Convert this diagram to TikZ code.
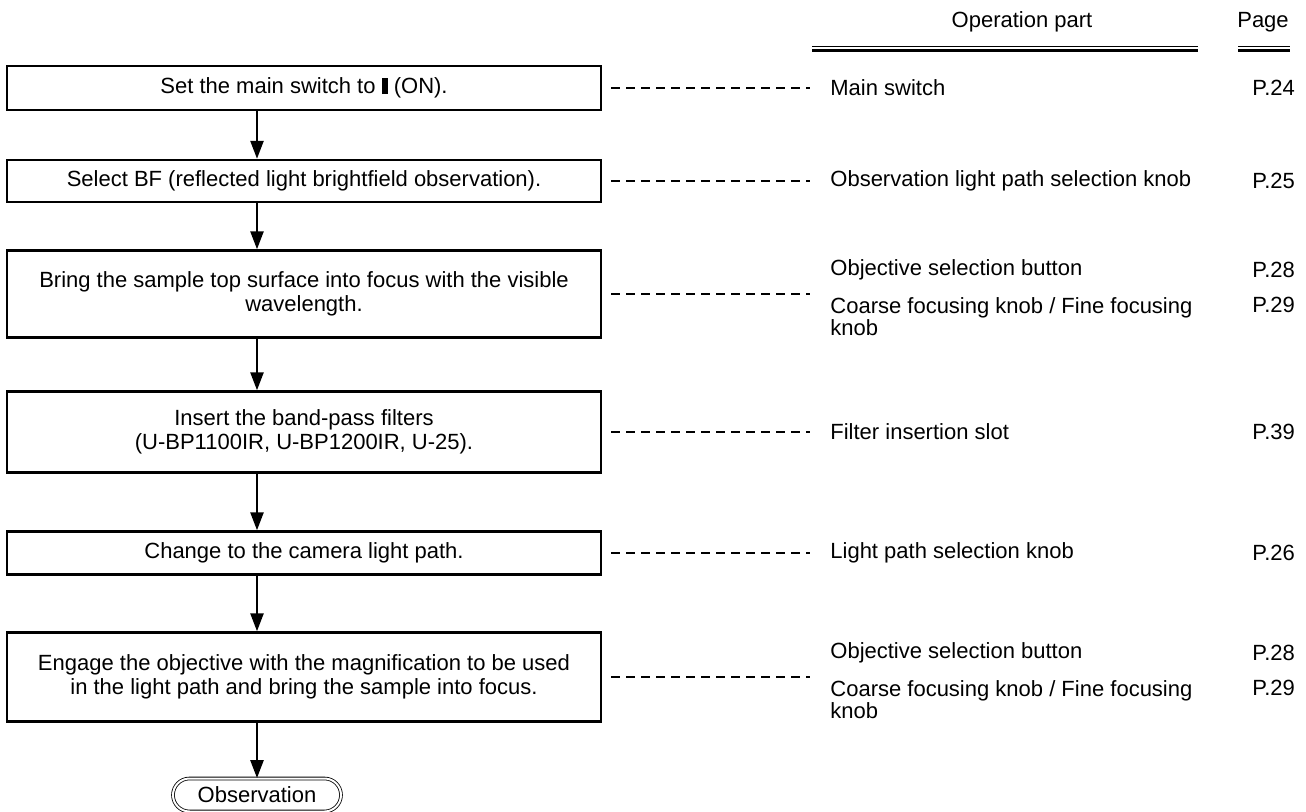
\documentclass[tikz,border=0pt]{standalone}
\usepackage{fontspec}
\setmainfont{Liberation Sans}
\usetikzlibrary{arrows.meta,positioning,shapes.misc}

\tikzset{
  stepbox/.style={draw,line width=1.2pt,minimum width=297pt,inner sep=0pt,align=center,font=\fontsize{11}{12}\selectfont},
  partlabel/.style={anchor=west,inner sep=0pt,align=left,font=\fontsize{11}{9}\selectfont},
  pagelabel/.style={anchor=west,inner sep=0pt,font=\fontsize{11}{12}\selectfont},
  flow/.style={line width=1.25pt,-{Triangle[length=9pt,width=6.5pt]}},
  guide/.style={line width=0.9pt,dash pattern=on 4.5pt off 3pt},
}

\begin{document}
\begin{tikzpicture}[x=0.5pt,y=-0.5pt]
  \useasboundingbox (0,0) rectangle (1306,812);
  \def\bx{304}   % centre of the step boxes
  \def\lx{830}   % left edge of the operation part column
  \def\px{1252}  % left edge of the page column
  \coordinate (ax) at (257,0); % line of the flow arrows
  % header
  \node[pagelabel,anchor=center] (hpart) at (1022,22) {Operation part};
  \node[pagelabel,anchor=center] (hpage) at (1263,22) {Page};
  \draw[line width=0.5pt] (812,47) -- (1198,47);
  \draw[line width=1.3pt] (812,50.8) -- (1198,50.8);
  \draw[line width=0.5pt] (1238,47) -- (1290,47);
  \draw[line width=1.3pt] (1238,50.8) -- (1290,50.8);
  % steps
  \node[stepbox,minimum height=22pt] (s1) at (\bx,88) {Set the main switch to \rule[-0.2pt]{3pt}{8pt} (ON).};
  \node[stepbox,minimum height=21pt] (s2) at (\bx,181) {Select BF (reflected light brightfield observation).};
  \node[stepbox,minimum height=43.5pt] (s3) at (\bx,294) {Bring the sample top surface into focus with the visible\\wavelength.};
  \node[stepbox,minimum height=40.5pt] (s4) at (\bx,432) {Insert the band-pass filters\\(U-BP1100IR, U-BP1200IR, U-25).};
  \node[stepbox,minimum height=21.5pt] (s5) at (\bx,553) {Change to the camera light path.};
  \node[stepbox,minimum height=44.5pt] (s6) at (\bx,677) {Engage the objective with the magnification to be used\\in the light path and bring the sample into focus.};
  \node[draw,double,double distance=1pt,line width=0.4pt,rounded rectangle,minimum width=84pt,minimum height=16.5pt,inner sep=0pt,font=\fontsize{11}{12}\selectfont] (obs) at (257,795) {Observation};
  % flow arrows
  \foreach \a/\b in {s1/s2,s2/s3,s3/s4,s4/s5,s5/s6,s6/obs}
    \draw[flow] (\a.south -| ax) -- (\b.north -| ax);
  % operation parts and pages
  \node[partlabel] (p1) at (\lx,88) {Main switch};
  \node[pagelabel] (g1) at (\px,88) {P.24};
  \node[partlabel] (p2) at (\lx,181) {Observation light path selection knob};
  \node[pagelabel] (g2) at (\px,181) {P.25};
  \node[partlabel] (p3a) at (\lx,270) {Objective selection button};
  \node[pagelabel] (g3a) at (\px,270) {P.28};
  \node[partlabel,anchor=north west] (p3b) at (\lx,297) {Coarse focusing knob / Fine focusing\\knob};
  \node[pagelabel] (g3b) at (\px,305) {P.29};
  \node[partlabel] (p4) at (\lx,432) {Filter insertion slot};
  \node[pagelabel] (g4) at (\px,432) {P.39};
  \node[partlabel] (p5) at (\lx,553) {Light path selection knob};
  \node[pagelabel] (g5) at (\px,553) {P.26};
  \node[partlabel] (p6a) at (\lx,653) {Objective selection button};
  \node[pagelabel] (g6a) at (\px,653) {P.28};
  \node[partlabel,anchor=north west] (p6b) at (\lx,680) {Coarse focusing knob / Fine focusing\\knob};
  \node[pagelabel] (g6b) at (\px,688) {P.29};
  % ends of the dashed guides
  \foreach \r/\y in {1/88,2/181,3/294,4/432,5/553,6/677}
    \coordinate (d\r) at (810,\y);
  % dashed guides
  \foreach \r in {1,...,6}
    \draw[guide] ([xshift=4.5pt]s\r.east) -- (d\r);
\end{tikzpicture}
\end{document}
